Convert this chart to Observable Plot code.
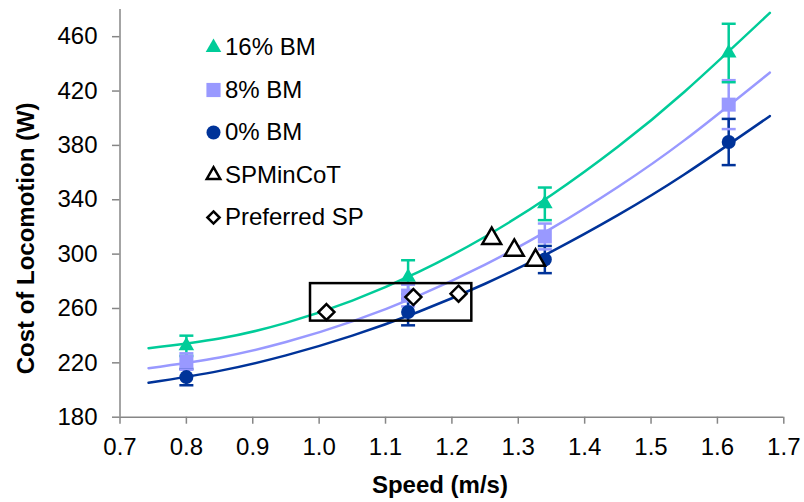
<!DOCTYPE html>
<html>
<head>
<meta charset="utf-8">
<script src="https://cdn.jsdelivr.net/npm/d3@7"></script>
<script src="https://cdn.jsdelivr.net/npm/@observablehq/plot@0.6"></script>
<style>
  html, body { margin: 0; padding: 0; background: #fff; }
  #chart { width: 804px; height: 502px; }
  #chart svg text { font-size: 24px; font-family: 'Liberation Sans', Arial, sans-serif; }
</style>
</head>
<body>
<div id="chart"></div>
<script>
// ---- data ----
const speeds = [0.80, 1.134, 1.34, 1.617];
const cost16 = [232.5, 283, 337, 448];
const err16  = [7.5, 12.5, 12, 21.5];
const cost8  = [221, 269.5, 313, 410];
const err8   = [6, 8, 9.5, 18];
const cost0  = [209.5, 257.4, 296, 382.5];
const err0   = [6, 9.8, 10, 17];

// trendline positions
const fitSpeeds = [0.743, 0.85, 0.95, 1.05, 1.15, 1.25, 1.35, 1.45, 1.55, 1.679];
const fit16 = [230.8, 237.9, 249.4, 265.8, 286.9, 312.8, 343.5, 379.0, 419.3, 477.5];
const fit8  = [216.1, 224.0, 235.3, 250.5, 269.5, 292.3, 318.9, 349.4, 383.7, 433.6];
const fit0  = [205.3, 214.1, 225.5, 240.0, 257.6, 278.2, 301.9, 328.7, 358.6, 401.6];

const spMinSpeed = [1.260, 1.294, 1.326];
const spMinCost  = [311.5, 302.8, 295.5];
const prefSpeed  = [1.011, 1.142, 1.210];
const prefCost   = [257.4, 268.4, 270.9];
const boxSpeed   = [0.987, 1.230];
const boxCost    = [250.7, 278.3];

const xTicks = [0.7, 0.8, 0.9, 1.0, 1.1, 1.2, 1.3, 1.4, 1.5, 1.6, 1.7];
const yTicks = [180, 220, 260, 300, 340, 380, 420, 460];

const seriesNames = ["16% BM", "8% BM", "0% BM"];
const legendNames = ["16% BM", "8% BM", "0% BM", "SPMinCoT", "Preferred SP"];

// ---- styling ----
const colors = {"16% BM": "#00CC99", "8% BM": "#9999FF", "0% BM": "#003399"};
const symbols = {"16% BM": "triangle", "8% BM": "square", "0% BM": "circle"};
const radii = {"16% BM": 5.8, "8% BM": 7.9, "0% BM": 7};

const costs = {"16% BM": cost16, "8% BM": cost8, "0% BM": cost0};
const errs = {"16% BM": err16, "8% BM": err8, "0% BM": err0};
const fits = {"16% BM": fit16, "8% BM": fit8, "0% BM": fit0};

const fitRows = [], errRows = [];
const pointsBy = {};
for (const s of seriesNames) {
  pointsBy[s] = speeds.map((x, i) => ({series: s, x, y: costs[s][i]}));
  speeds.forEach((x, i) => {
    errRows.push({series: s, x, lo: costs[s][i] - errs[s][i], hi: costs[s][i] + errs[s][i]});
  });
  fitSpeeds.forEach((x, i) => fitRows.push({series: s, x, y: fits[s][i]}));
}
const spMin = spMinSpeed.map((x, i) => ({x, y: spMinCost[i]}));
const pref = prefSpeed.map((x, i) => ({x, y: prefCost[i]}));

const capSymbol = {
  draw(context) { context.moveTo(-7, 0); context.lineTo(7, 0); }
};

const legendStyle = [
  {symbol: "triangle", fill: colors["16% BM"], stroke: "none", r: 5.8, sw: 0},
  {symbol: "square", fill: colors["8% BM"], stroke: "none", r: 8, sw: 0},
  {symbol: "circle", fill: colors["0% BM"], stroke: "none", r: 7, sw: 0},
  {symbol: "triangle", fill: "white", stroke: "black", r: 5, sw: 2.5},
  {symbol: "diamond2", fill: "white", stroke: "black", r: 5.5, sw: 2.5}
];

const legendMarks = [];
legendNames.forEach((name, i) => {
  const st = legendStyle[i];
  legendMarks.push(Plot.dot([name], {
    frameAnchor: "top-left", dx: 93.5, dy: 38 + i * 42.5,
    symbol: st.symbol, r: st.r, fill: st.fill, stroke: st.stroke, strokeWidth: st.sw
  }));
  legendMarks.push(Plot.text([name], {
    frameAnchor: "top-left", dx: 105, dy: 38 + i * 42.5,
    textAnchor: "start", lineAnchor: "middle", fontSize: 24, fill: "black"
  }));
});

const markerMarks = seriesNames.map(s => Plot.dot(pointsBy[s], {
  x: "x", y: "y", symbol: symbols[s], r: radii[s], fill: colors[s], stroke: "none"
}));

const chart = Plot.plot({
  width: 804,
  height: 502,
  marginLeft: 119.5,
  marginRight: 20.7,
  marginTop: 9,
  marginBottom: 85.3,
  style: {fontFamily: "'Liberation Sans', Arial, sans-serif", fontSize: "24px", background: "white", color: "black"},
  x: {domain: [0.7, 1.7], ticks: xTicks, label: null},
  y: {domain: [180, 480], ticks: yTicks, label: null},
  marks: [
    Plot.ruleX([0.7], {stroke: "#868686", strokeWidth: 1.5}),
    Plot.ruleY([180], {stroke: "#868686", strokeWidth: 1.5}),
    Plot.axisX({ticks: xTicks, tickSize: 7, tickPadding: 14, tickFormat: d3.format(".1f"),
      stroke: "#868686", fill: "black", strokeWidth: 1.5, fontSize: 24, label: null}),
    Plot.axisY({ticks: yTicks, tickSize: 7.5, tickPadding: 15,
      stroke: "#868686", fill: "black", strokeWidth: 1.5, fontSize: 24, label: null}),
    // error bars
    Plot.ruleX(errRows, {x: "x", y1: "lo", y2: "hi", stroke: d => colors[d.series], strokeWidth: 2.5}),
    Plot.dot(errRows, {x: "x", y: "hi", symbol: capSymbol, stroke: d => colors[d.series], fill: "none", strokeWidth: 2.5}),
    Plot.dot(errRows, {x: "x", y: "lo", symbol: capSymbol, stroke: d => colors[d.series], fill: "none", strokeWidth: 2.5}),
    // fitted curves
    Plot.line(fitRows, {x: "x", y: "y", z: "series", stroke: d => colors[d.series], strokeWidth: 2.5, curve: "natural"}),
    // data markers
    ...markerMarks,
    // SPMinCoT and Preferred SP
    Plot.dot(spMin, {x: "x", y: "y", symbol: "triangle", r: 7, fill: "white", stroke: "black", strokeWidth: 2.5}),
    Plot.dot(pref, {x: "x", y: "y", symbol: "diamond2", r: 7.2, fill: "white", stroke: "black", strokeWidth: 2.5}),
    Plot.rect([0], {x1: () => boxSpeed[0], x2: () => boxSpeed[1], y1: () => boxCost[0], y2: () => boxCost[1],
      fill: "none", stroke: "black", strokeWidth: 2.5}),
    // axis titles
    Plot.text(["Cost of Locomotion (W)"], {frameAnchor: "left", dx: -94, dy: 25, rotate: -90,
      textAnchor: "middle", lineAnchor: "middle", fontWeight: "bold", fontSize: 24, fill: "black"}),
    Plot.text(["Speed (m/s)"], {frameAnchor: "bottom", dx: -12, dy: 68,
      textAnchor: "middle", lineAnchor: "middle", fontWeight: "bold", fontSize: 24, fill: "black"}),
    ...legendMarks
  ]
});
document.getElementById("chart").appendChild(chart);
</script>
</body>
</html>
